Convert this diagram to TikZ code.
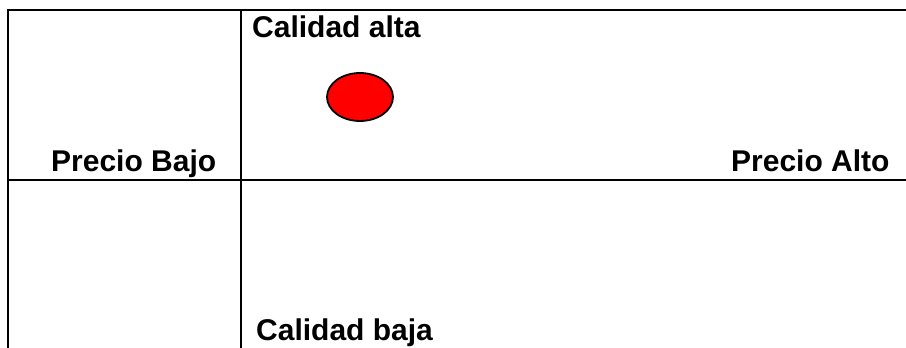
\documentclass[tikz,border=0pt]{standalone}
\usepackage{fontspec}
\setmainfont{Liberation Sans}
\usetikzlibrary{shapes.geometric}
\begin{document}
\begin{tikzpicture}[x=1pt,y=-1pt,
  rule/.style={line width=2.5pt, line cap=rect},
  lbl/.style={anchor=base west, inner sep=0pt, font=\fontsize{30}{32}\selectfont\bfseries},
  dot/.style={ellipse, draw=black, line width=1.8pt, fill=red, minimum width=66pt, minimum height=48pt, inner sep=0pt}]
\useasboundingbox (0,0) rectangle (906,348);
\coordinate (tl) at (8,10);
\coordinate (tr) at (906,10);
\coordinate (bl) at (8,348);
\coordinate (mt) at (241,10);
\coordinate (mb) at (241,348);
\coordinate (hl) at (8,180);
\coordinate (hr) at (906,180);
\draw[rule] (tl) -- (tr);
\draw[rule] (tl) -- (bl);
\draw[rule] (mt) -- (mb);
\draw[rule] (hl) -- (hr);
\node[lbl] (calta) at (252,37) {Calidad alta};
\node[lbl] (pbajo) at (51,171) {Precio Bajo};
\node[lbl] (palto) at (731,171) {Precio Alto};
\node[lbl] (cbaja) at (256,340) {Calidad baja};
\node[dot] (punto) at (360,97) {};
\end{tikzpicture}
\end{document}
